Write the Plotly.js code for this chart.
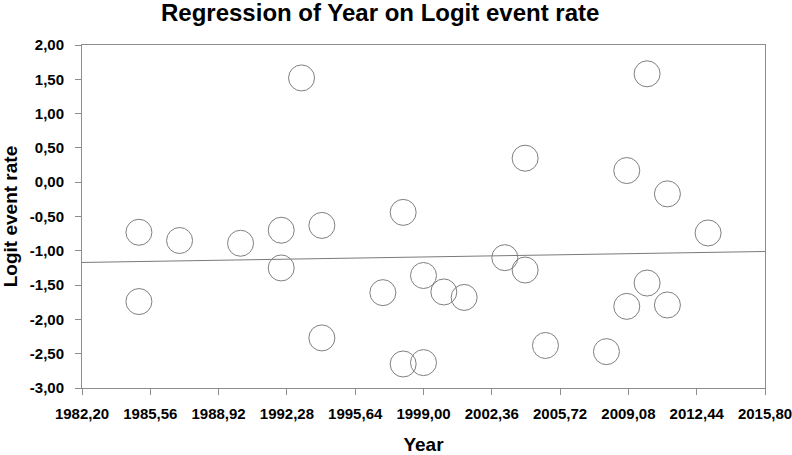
<!DOCTYPE html>
<html>
<head>
<meta charset="utf-8">
<script src="https://cdn.plot.ly/plotly-3.0.1.min.js"></script>
<style>html,body{margin:0;padding:0;background:#fff;}#chart{width:792px;height:455px;}</style>
</head>
<body>
<div id="chart"></div>
<script>
const years = [1985, 1985, 1987, 1990, 1992, 1992, 1993, 1994, 1994, 1997, 1998, 1998, 1999, 1999, 2000, 2001, 2003, 2004, 2004, 2005, 2008, 2009, 2009, 2010, 2010, 2011, 2011, 2013];
const logitRate = [-0.73, -1.74, -0.85, -0.89, -0.70, -1.25, 1.52, -0.63, -2.27, -1.61, -0.44, -2.65, -1.36, -2.63, -1.60, -1.68, -1.10, 0.35, -1.28, -2.38, -2.47, 0.17, -1.81, 1.58, -1.47, -0.17, -1.79, -0.74];
const regYears = [1982.2, 2015.8];
const regLogit = [-1.17, -1.01];
const xTickVals = [1982.2, 1985.56, 1988.92, 1992.28, 1995.64, 1999.0, 2002.36, 2005.72, 2009.08, 2012.44, 2015.8];
const xTickText = ["1982,20", "1985,56", "1988,92", "1992,28", "1995,64", "1999,00", "2002,36", "2005,72", "2009,08", "2012,44", "2015,80"];
const yTickVals = [-3, -2.5, -2, -1.5, -1, -0.5, 0, 0.5, 1, 1.5, 2];
const yTickText = ["-3,00", "-2,50", "-2,00", "-1,50", "-1,00", "-0,50", "0,00", "0,50", "1,00", "1,50", "2,00"];

const font = "Liberation Sans, Arial, sans-serif";
const traces = [
  {x: regYears, y: regLogit, mode: 'lines', type: 'scatter', line: {color: '#7a7a7a', width: 1}, hoverinfo: 'skip', cliponaxis: false},
  {x: years, y: logitRate, mode: 'markers', type: 'scatter',
   marker: {symbol: 'circle-open', size: 26, color: '#7f7f7f', line: {width: 1, color: '#7f7f7f'}}}
];
const layout = {
  width: 792, height: 455,
  margin: {l: 82, r: 27, t: 45, b: 67},
  paper_bgcolor: '#fff', plot_bgcolor: '#fff',
  showlegend: false,
  font: {family: font, color: '#000'},
  title: {text: 'Regression of Year on Logit event rate', font: {family: font, size: 24, weight: 700, color: '#000'},
          xref: 'container', x: 0.48, xanchor: 'center', yref: 'container', y: 0.972, yanchor: 'middle'},
  xaxis: {range: [1982.2, 2015.8], tickmode: 'array', tickvals: xTickVals, ticktext: xTickText,
          showgrid: false, zeroline: false, showline: true, linecolor: '#8c8c8c', linewidth: 1, mirror: true,
          ticks: 'outside', ticklen: 6, tickcolor: '#8c8c8c', tickfont: {family: font, size: 15, weight: 700, color: '#000'},
          ticklabelstandoff: 6, ticklabeloverflow: 'allow',
          title: {text: 'Year', font: {family: font, size: 19, weight: 700, color: '#000'}, standoff: 22}},
  yaxis: {range: [-3, 2], tickmode: 'array', tickvals: yTickVals, ticktext: yTickText,
          showgrid: false, zeroline: false, showline: true, linecolor: '#8c8c8c', linewidth: 1, mirror: true,
          ticks: 'outside', ticklen: 6, tickcolor: '#8c8c8c', tickfont: {family: font, size: 15, weight: 700, color: '#000'},
          ticklabelstandoff: 8, ticklabeloverflow: 'allow',
          title: {text: 'Logit event rate', font: {family: font, size: 19, weight: 700, color: '#000'}, standoff: 12}}
};
Plotly.newPlot('chart', traces, layout, {displayModeBar: false, staticPlot: true});
</script>
</body>
</html>
